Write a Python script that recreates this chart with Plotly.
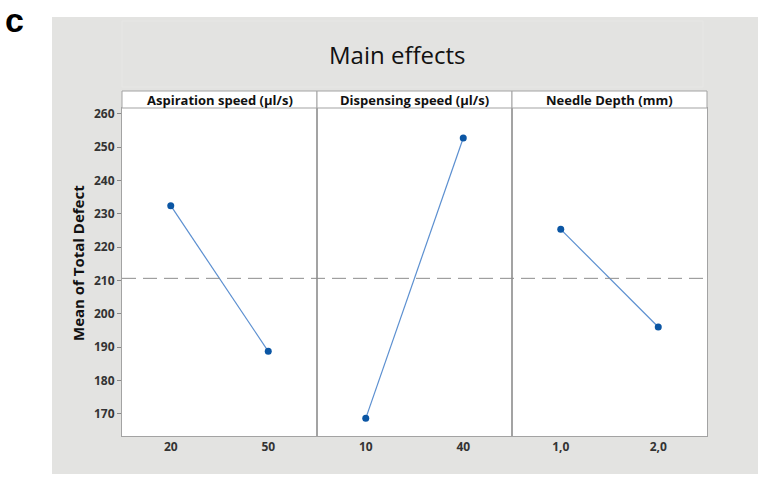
import plotly.graph_objects as go

factors = ["Aspiration speed (µl/s)", "Dispensing speed (µl/s)", "Needle Depth (mm)"]
level_labels = [["20", "50"], ["10", "40"], ["1,0", "2,0"]]
means = [[232.4, 188.7], [168.6, 252.7], [225.3, 196.0]]
overall_mean = 210.6
y_ticks = [170, 180, 190, 200, 210, 220, 230, 240, 250, 260]

W, H = 758, 478
L, R, T, B = 122, 51, 108, 42
pw, ph = W - L - R, H - T - B

def px_x(px):
    return (px - L) / pw

def px_y(py):
    return (H - B - py) / ph

fig = go.Figure()
line_col = "#a3a3a3"
for i, (lv, m) in enumerate(zip(level_labels, means)):
    xa = "x" if i == 0 else f"x{i+1}"
    ya = "y" if i == 0 else f"y{i+1}"
    fig.add_trace(go.Scatter(
        x=[0, 1], y=m, mode="lines+markers", xaxis=xa, yaxis=ya,
        line=dict(color="#5b8fd0", width=1.2),
        marker=dict(color="#0b56a4", size=7),
        showlegend=False, hoverinfo="y"))

tick_font = dict(family="Open Sans", size=12, color="#333333", weight="bold")
layout = dict(
    width=W, height=H,
    margin=dict(l=L, r=R, t=T, b=B),
    paper_bgcolor="white", plot_bgcolor="white",
    showlegend=False,
)
for i in range(3):
    sx = "" if i == 0 else str(i + 1)
    layout["xaxis" + sx] = dict(
        domain=[i / 3, (i + 1) / 3], range=[-0.5, 1.5],
        tickvals=[0, 1], ticktext=level_labels[i],
        showline=True, linecolor=line_col, linewidth=1, mirror=True,
        showgrid=False, zeroline=False, ticks="",
        tickfont=tick_font, anchor="y" + sx, fixedrange=True)
    yd = dict(
        domain=[0, 1], range=[163.3, 261.7],
        showline=True, linecolor=line_col, linewidth=1, mirror=True,
        showgrid=False, zeroline=False, anchor="x" + sx, fixedrange=True)
    if i == 0:
        yd.update(tickvals=y_ticks, ticks="outside", ticklen=4, tickcolor="#888888",
                  tickfont=tick_font)
    else:
        yd.update(showticklabels=False, ticks="", matches="y")
    layout["yaxis" + sx] = yd
fig.update_layout(**layout)

shapes = [
    dict(type="rect", xref="paper", yref="paper", x0=px_x(52), x1=px_x(762),
         y0=px_y(474), y1=px_y(17), fillcolor="#e3e3e1", line=dict(width=0), layer="below"),
    dict(type="rect", xref="paper", yref="paper", x0=0, x1=1, y0=0, y1=1,
         fillcolor="white", line=dict(width=0), layer="below"),
    dict(type="rect", xref="paper", yref="paper", x0=px_x(122), x1=px_x(703),
         y0=px_y(87), y1=px_y(21), fillcolor="rgba(0,0,0,0)", line=dict(color="#e7e7e5", width=1), layer="below"),
    dict(type="line", xref="paper", yref="y", x0=0, x1=1, y0=overall_mean, y1=overall_mean,
         line=dict(color="#8c8c8c", width=1, dash="14px,7px")),
]
annotations = []
for i, f in enumerate(factors):
    shapes.append(dict(type="rect", xref="paper", yref="paper", x0=i / 3, x1=(i + 1) / 3,
                       y0=1, y1=px_y(91), fillcolor="white", line=dict(color=line_col, width=1)))
    annotations.append(dict(text=f, xref="paper", yref="paper", x=(i + 0.5) / 3, y=px_y(99.5),
                            showarrow=False, xanchor="center", yanchor="middle",
                            font=dict(family="Open Sans", size=13, color="#111111", weight="bold")))
annotations += [
    dict(text="Main effects", xref="paper", yref="paper", x=px_x(397), y=px_y(54),
         showarrow=False, xanchor="center", yanchor="middle",
         font=dict(family="Open Sans", size=24, color="#111111")),
    dict(text="Mean of Total Defect", xref="paper", yref="paper", x=px_x(78), y=px_y(263),
         showarrow=False, xanchor="center", yanchor="middle", textangle=-90,
         font=dict(family="Open Sans", size=15, color="#111111", weight="bold")),
    dict(text="c", xref="paper", yref="paper", x=px_x(14), y=px_y(20),
         showarrow=False, xanchor="center", yanchor="middle",
         font=dict(family="Liberation Sans", size=34, color="#000000", weight="bold")),
]
fig.update_layout(shapes=shapes, annotations=annotations)
fig.write_html("out.html", config={"displayModeBar": False},
               post_script="document.body.style.margin='0px';document.body.style.overflow='hidden';")
